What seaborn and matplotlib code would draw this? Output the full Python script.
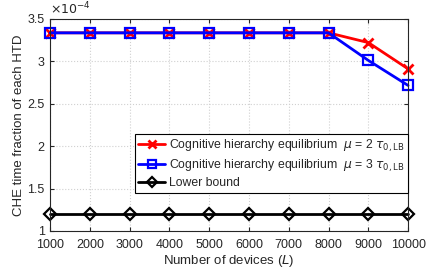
import matplotlib
matplotlib.use("Agg")
import matplotlib.pyplot as plt
import seaborn as sns
import pandas as pd

# Number of devices L
devices = [1000, 2000, 3000, 4000, 5000, 6000, 7000, 8000, 9000, 10000]
# CHE time fraction (in units of 1e-4)
che_mu2 = [3.335, 3.335, 3.335, 3.335, 3.335, 3.335, 3.335, 3.335, 3.22, 2.91]
che_mu3 = [3.335, 3.335, 3.335, 3.335, 3.335, 3.335, 3.335, 3.335, 3.01, 2.715]
lower_bound = [1.2, 1.2, 1.2, 1.2, 1.2, 1.2, 1.2, 1.2, 1.2, 1.2]

labels = [
    r"Cognitive hierarchy equilibrium  $\mu$ = 2 $\tau_{0,\mathrm{LB}}$",
    r"Cognitive hierarchy equilibrium  $\mu$ = 3 $\tau_{0,\mathrm{LB}}$",
    "Lower bound",
]

sns.set_style("ticks")
plt.rcParams["font.family"] = ["Liberation Sans", "DejaVu Sans"]
plt.rcParams["mathtext.fontset"] = "dejavusans"
plt.rcParams["font.size"] = 9

fig = plt.figure(figsize=(4.36, 2.73), dpi=100)
ax = fig.add_axes([0.115, 0.154, 0.821, 0.777])

df = pd.DataFrame({"L": devices, "mu2": che_mu2, "mu3": che_mu3, "lb": lower_bound})

# style per series: (column, color, marker, size, filled)
series = [
    ("mu2", "red", "x", 7, True),
    ("mu3", "blue", "s", 7, False),
    ("lb", "black", "D", 6, False),
]
handles = []
for (col, c, m, ms, filled), lab in zip(series, labels):
    n_before = len(ax.lines)
    sns.lineplot(data=df, x="L", y=col, ax=ax, color=c, legend=False)
    line = ax.lines[n_before]
    line.set_linestyle("-")
    line.set_linewidth(2)
    line.set_marker(m)
    line.set_markersize(ms)
    line.set_markeredgecolor(c)
    line.set_markerfacecolor(c if filled else "none")
    line.set_markeredgewidth(2 if m == "x" else 1.6)
    line.set_clip_on(False)
    line.set_label(lab)
    handles.append(line)

ax.set_xlim(1000, 10000)
ax.set_ylim(1, 3.5)
ax.set_xticks(devices)
ax.set_yticks([1, 1.5, 2, 2.5, 3, 3.5])
ax.set_yticklabels(["1", "1.5", "2", "2.5", "3", "3.5"])
ax.grid(True, color="#d0d0d0", linestyle=":", linewidth=0.8)
ax.tick_params(direction="in", top=True, right=True, length=3, labelsize=9,
               colors="#262626")
ax.tick_params(axis="x", pad=6)
ax.tick_params(axis="y", pad=4)
for s in ax.spines.values():
    s.set_color("#262626")
    s.set_linewidth(0.8)

ax.set_xlabel("Number of devices ($\\mathit{L}$)", fontsize=9.5, labelpad=1)
ax.set_ylabel("CHE time fraction of each HTD", fontsize=9.5, labelpad=2)
ax.text(0.0, 1.005, r"$\times10^{-4}$", transform=ax.transAxes, fontsize=9,
        ha="left", va="bottom", color="#262626")

leg = ax.legend(handles=handles, loc="lower right", bbox_to_anchor=(1.0, 0.179),
                borderaxespad=0, fontsize=8.8, frameon=True, fancybox=False,
                edgecolor="black", framealpha=1, handlelength=2.2,
                handletextpad=0.3, borderpad=0.3, labelspacing=0.3,
                markerscale=0.8)
leg.get_frame().set_linewidth(0.8)

fig.savefig("out.png", dpi=100)
